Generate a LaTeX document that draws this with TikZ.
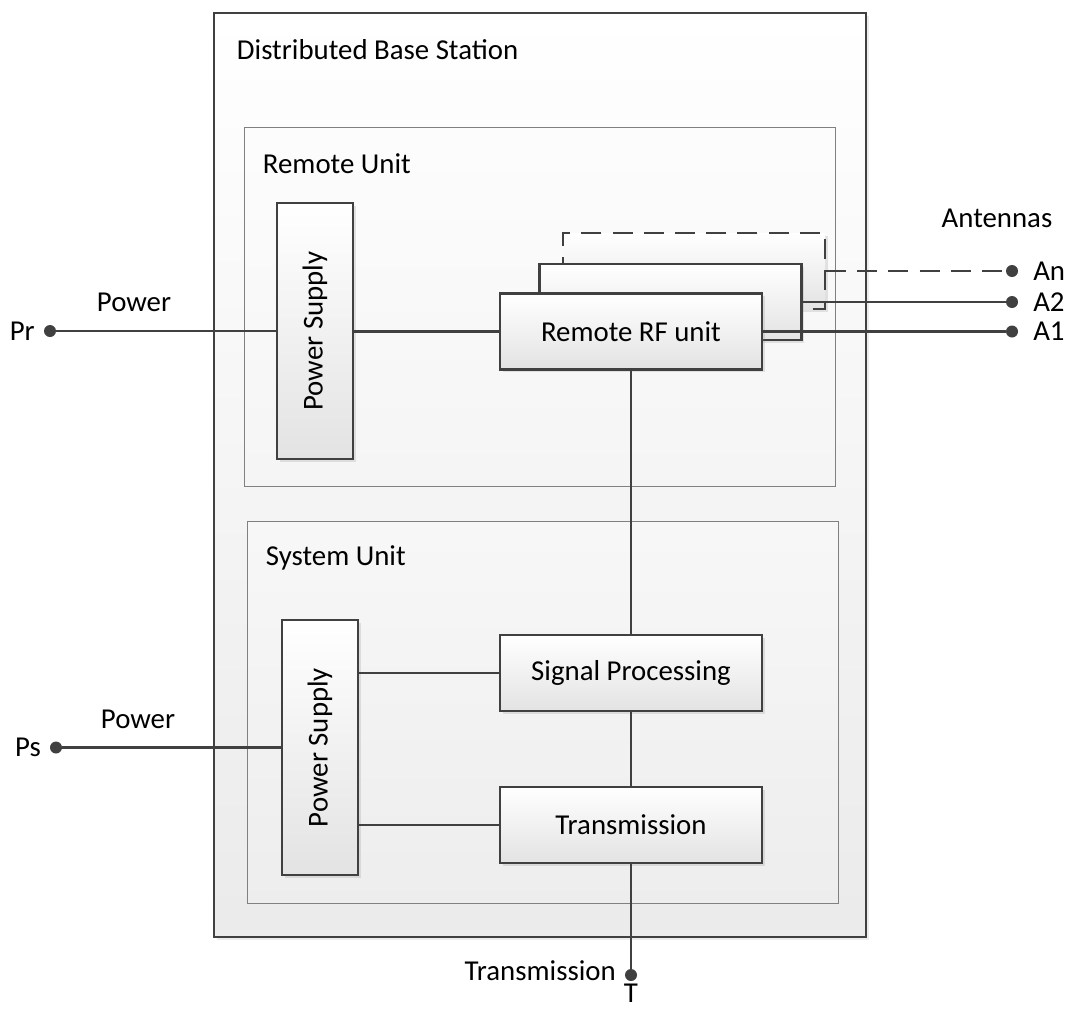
\documentclass[tikz,border=0pt]{standalone}
\usepackage{fontspec}
\setmainfont{Carlito}
\usepackage{graphicx}
\usetikzlibrary{shadows}
\definecolor{linegray}{HTML}{404040}
\tikzset{
    unit/.style={draw=linegray, line width=1.5pt, top color=white, bottom color=black!11,
        drop shadow={shadow xshift=0.07cm, shadow yshift=-0.07cm, opacity=0.2},
        minimum width=6.55cm, minimum height=1.9cm, inner sep=0pt},
    supply/.style={unit, minimum width=1.9cm, minimum height=6.4cm},
    wire/.style={draw=linegray, line width=1.5pt},
    port/.style={circle, fill=linegray, minimum size=0.3cm, inner sep=0pt},
    frame/.style={draw=black!50, line width=0.6pt}
}

\begin{document}
\begin{tikzpicture}[font=\fontsize{20.5}{24}\selectfont]
    \useasboundingbox (0,0) rectangle (26.7,-25.25);
    % Base station
    \draw[draw=linegray, line width=1.8pt, top color=white, bottom color=black!8,
        drop shadow={shadow xshift=0.08cm, shadow yshift=-0.08cm, opacity=0.15}]
        (5.35,-0.325) rectangle (21.65,-23.425);
    \node[anchor=west] (bs) at (5.8,-1.25) {Distributed Base Station};

    % Remote unit
    \draw[frame, top color=black!1, bottom color=black!4] (6.1,-3.175) rectangle (20.875,-12.15);
    \node[anchor=west] (ru) at (6.45,-4.1) {Remote Unit};
    \node[supply] (ps1) at (7.875,-8.275) {\rotatebox{90}{Power Supply}};
    \node[unit, dashed, dash pattern=on 0.5cm off 0.28cm] (rfn) at (17.35,-6.775) {};
    \node[unit] (rf2) at (16.7625,-7.55) {};
    \node[unit] (rf1) at (15.775,-8.2875) {Remote RF unit};

    % System unit
    \draw[frame, top color=black!3, bottom color=black!7] (6.175,-13.025) rectangle (20.95,-22.575);
    \node[anchor=west] (su) at (6.525,-13.95) {System Unit};
    \node[supply, minimum height=6.375cm] (ps2) at (8.0,-18.6875) {\rotatebox{90}{Power Supply}};
    \node[unit] (sp) at (15.775,-16.825) {Signal Processing};
    \node[unit] (tr) at (15.775,-20.625) {Transmission};

    % Ports
    \node[port, label={[label distance=0.1cm]left:Pr}] (pr) at (1.25,-8.275) {};
    \node[port, label={[label distance=0.1cm]left:Ps}] (ps) at (1.4,-18.6875) {};
    \node[port, label={[label distance=0.25cm]right:An}] (an) at (25.3,-6.775) {};
    \node[port, label={[label distance=0.25cm]right:A2}] (a2) at (25.3,-7.55) {};
    \node[port, label={[label distance=0.25cm]right:A1}] (a1) at (25.3,-8.2875) {};
    \node[port, label={[yshift=0.1cm, label distance=0.1cm]left:Transmission},
        label={[inner sep=0pt, label distance=0.05cm]below:T}] (t) at (15.775,-24.375) {};
    \node (pwr1) at (3.35,-7.55) {Power};
    \node (pwr2) at (3.45,-17.975) {Power};
    \node (ant) at (24.925,-5.45) {Antennas};

    % Wires
    \draw[wire] (pr) -- (ps1.west |- pr);
    \draw[wire] (ps1.east |- rf1.west) -- (rf1.west);
    \draw[wire] (rf1.south) -- (sp.north);
    \draw[wire] (sp.south) -- (tr.north);
    \draw[wire] (ps2.east |- sp.west) -- (sp.west);
    \draw[wire] (ps2.east |- tr.west) -- (tr.west);
    \draw[wire] (ps) -- (ps2.west |- ps);
    \draw[wire] (tr.south) -- (t);
    \draw[wire] (rf1.east) -- (a1);
    \draw[wire] (rf2.east) -- (a2);
    \draw[wire, dash pattern=on 0.5cm off 0.28cm] (rfn.east) -- (an);
\end{tikzpicture}
\end{document}
